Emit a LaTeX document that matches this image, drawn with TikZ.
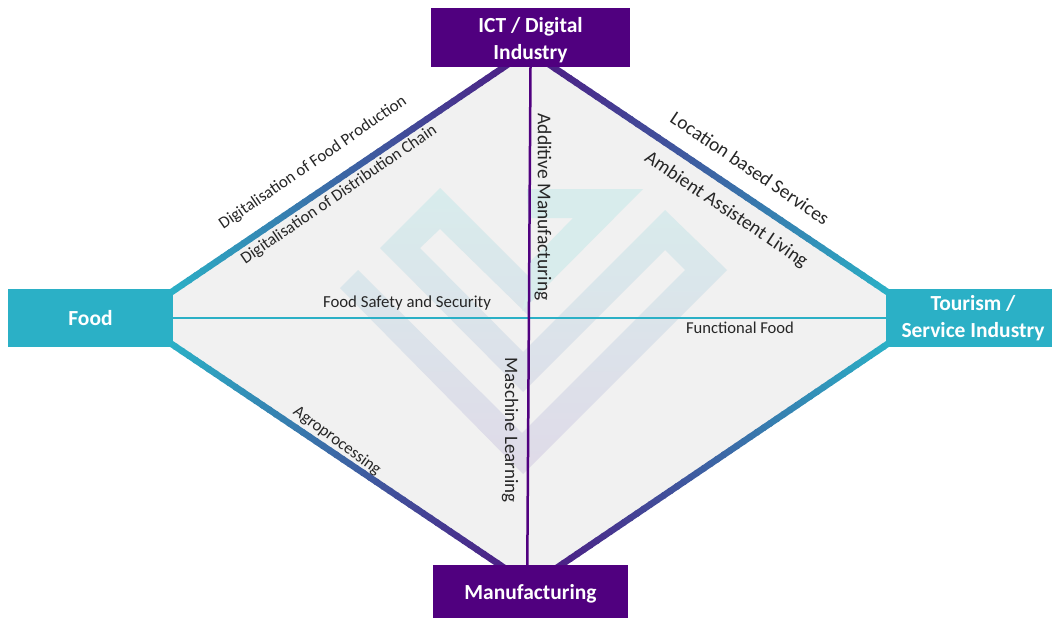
\documentclass[tikz,border=0pt]{standalone}
\usepackage{fontspec}
\setmainfont{Carlito}
\usetikzlibrary{calc,positioning}
\definecolor{sectorpurple}{HTML}{50007F}
\definecolor{sectorteal}{HTML}{2BB0C6}
\definecolor{linkpurple}{HTML}{4C1F85}
\definecolor{paneback}{HTML}{F1F1F1}
\definecolor{logotop}{HTML}{D8ECEC}
\definecolor{logobottom}{HTML}{DFDAE8}
\tikzset{
  sectorbox/.style={inner sep=0pt,align=center,text=white,font=\fontsize{21.5}{27}\selectfont\bfseries},
  linkline/.style={line width=6.5pt},
  tag/.style={inner sep=0pt,text=black!85,font=\fontsize{#1}{#1}\selectfont},
}
% gradient link, teal end first
\newcommand{\gradlink}[2]{
  \foreach \i in {0,2,...,98}{
    \draw[linkline,draw=linkpurple!\i!sectorteal] ($(#1)!\i/100!(#2)$) -- ($(#1)!\i/100+0.025!(#2)$);
  }
}
\begin{document}
\begin{tikzpicture}[x=1pt,y=-1pt]
\useasboundingbox (0,0) rectangle (1052,618);
\coordinate (foodup) at (168,294.4);
\coordinate (fooddown) at (168,341.6);
\coordinate (tourup) at (891,294.4);
\coordinate (tourdown) at (891,341.6);
\coordinate (ictleft) at (507,65);
\coordinate (ictright) at (550,65);
\coordinate (manuleft) at (503,567);
\coordinate (manuright) at (558,567);
\coordinate (manufoot) at (527.3,565);
\fill[paneback] (foodup) -- (ictleft) -- (ictright) -- (tourup) -- (tourdown) -- (manuright) -- (manuleft) -- (fooddown) -- cycle;
%logo behind the lines
\shade[top color=logotop,bottom color=logobottom] (523,352) -- (665,210) -- (727,270) -- (523,474) -- (340,288) -- (358,270) -- (522,433) -- (685,270) -- (665,250) -- (523,392) -- (380,248) -- (440,188) -- (530,278) -- (530,317) -- (440,229) -- (420,248) -- cycle;
\fill[logotop,even odd rule] (527,189) -- (643,189) -- (522,311) -- (530,278) -- cycle (530,218) -- (573,218) -- (530,262) -- cycle;
\gradlink{foodup}{ictleft}
\gradlink{fooddown}{manuleft}
\gradlink{tourup}{ictright}
\gradlink{tourdown}{manuright}
\node[sectorbox,fill=sectorteal,minimum width=165pt,minimum height=58pt] (food) at (90.5,318) {Food};
\node[sectorbox,fill=sectorteal,minimum width=166pt,minimum height=58pt] (tourism) at (969,318) {\raisebox{-1pt}{\hspace*{8pt}Tourism /}\\\raisebox{-1pt}{\hspace*{8pt}Service Industry}};
\node[sectorbox,fill=sectorpurple,minimum width=199pt,minimum height=59pt,text depth=0pt] (ict) at (530.5,37.5) {\raisebox{-2pt}{ICT / Digital}\\\raisebox{-2pt}{Industry}};
\node[sectorbox,fill=sectorpurple,minimum width=195pt,minimum height=53pt,text height=15pt,text depth=0pt] (manufacturing) at (530.5,591.5) {Manufacturing};
\draw[sectorteal,line width=2.3pt] (food.east) -- (tourism.west);
\draw[sectorpurple,line width=2.5pt] (ict.south) -- (manufoot);
\node[tag=16.8,rotate=34.4] (foodprod) at (313,163) {Digitalisation of Food Production};
\node[tag=16.8,rotate=34.4] (distchain) at (339,195) {Digitalisation of Distribution Chain};
\node[tag=19.4,rotate=-34] (location) at (750,168) {Location based Services};
\node[tag=19.4,rotate=-34] (ambient) at (726,210) {Ambient Assistent Living};
\node[tag=19.5,rotate=-90] (additive) at (543,207) {Additive Manufacturing};
\node[tag=19,rotate=-90] (maschine) at (510,430) {Maschine Learning};
\node[tag=16.8] (safety) at (407,303) {Food Safety and Security};
\node[tag=16.6] (functional) at (740,328) {Functional Food};
\node[tag=16.7,rotate=-36] (agro) at (337,441) {Agroprocessing};
\end{tikzpicture}
\end{document}
